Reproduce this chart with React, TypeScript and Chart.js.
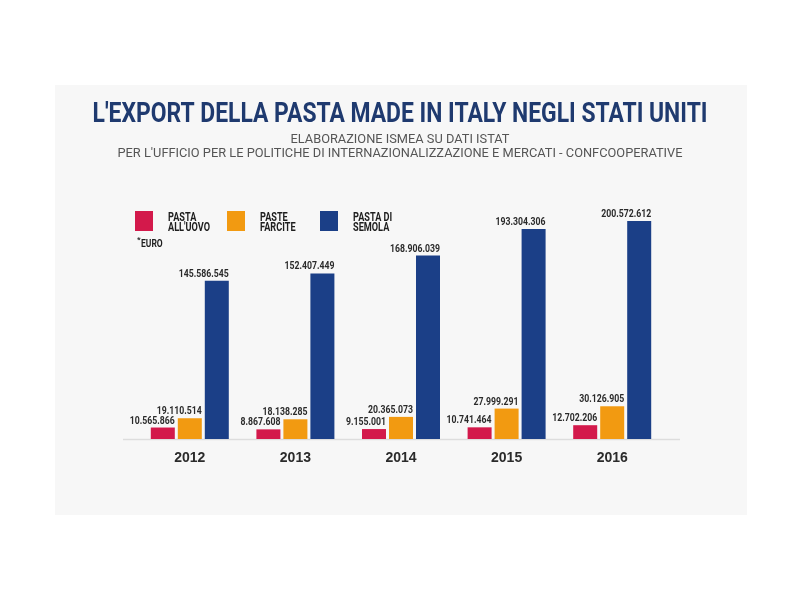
import React, { useEffect, useRef } from "react";
import { Chart, registerables } from "chart.js";

Chart.register(...registerables);

const years = ["2012", "2013", "2014", "2015", "2016"];
const pastaUovo = [10565866, 8867608, 9155001, 10741464, 12702206];
const pasteFarcite = [19110514, 18138285, 20365073, 27999291, 30126905];
const pastaSemola = [145586545, 152407449, 168906039, 193304306, 200572612];
const seriesNames = [["PASTA", "ALL'UOVO"], ["PASTE", "FARCITE"], ["PASTA DI", "SEMOLA"]];
const seriesColors = ["#d3194b", "#f29a11", "#1b3f87"];
const titleText = "L'EXPORT DELLA PASTA MADE IN ITALY NEGLI STATI UNITI";
const subtitleLines = [
  "ELABORAZIONE ISMEA SU DATI ISTAT",
  "PER L'UFFICIO PER LE POLITICHE DI INTERNAZIONALIZZAZIONE E MERCATI - CONFCOOPERATIVE",
];
const unitNote = "EURO";

const FONT = "Roboto, 'Liberation Sans', sans-serif";

function fmt(v: number): string {
  const s = Math.round(v).toString();
  return s.replace(/\B(?=(\d{3})+(?!\d))/g, ".");
}

function cond(ctx: CanvasRenderingContext2D, text: string, x: number, y: number, factor: number) {
  ctx.fillText(text, x, y, ctx.measureText(text).width * factor);
}

const decorPlugin = {
  id: "decor",
  beforeDraw(chart: any) {
    const ctx = chart.ctx;
    ctx.save();
    ctx.fillStyle = "#ffffff";
    ctx.fillRect(0, 0, chart.width, chart.height);
    ctx.fillStyle = "#f7f7f7";
    ctx.fillRect(55, 85, 692, 430);
    ctx.restore();
  },
  beforeDatasetsDraw(chart: any) {
    const ctx = chart.ctx;
    const ca = chart.chartArea;
    ctx.save();
    ctx.strokeStyle = "#dddddd";
    ctx.lineWidth = 1.5;
    ctx.beginPath();
    ctx.moveTo(ca.left - 14, ca.bottom + 0.5);
    ctx.lineTo(ca.right + 15, ca.bottom + 0.5);
    ctx.stroke();
    ctx.restore();
  },
  afterDatasetsDraw(chart: any) {
    const ctx: CanvasRenderingContext2D = chart.ctx;
    ctx.save();
    ctx.textBaseline = "alphabetic";
    // title
    ctx.fillStyle = "#1f3a6f";
    ctx.textAlign = "center";
    ctx.font = `bold 28px ${FONT}`;
    ctx.fillText(titleText, 400, 122, 615);
    ctx.fillStyle = "#555555";
    ctx.font = `13px ${FONT}`;
    const subF = 565 / ctx.measureText(subtitleLines[1]).width;
    cond(ctx, subtitleLines[0], 400, 143, subF);
    cond(ctx, subtitleLines[1], 400, 157, subF);

    // legend
    const legendX = [135, 227, 320];
    ctx.font = `bold 13px ${FONT}`;
    const legF = 42 / ctx.measureText("ALL'UOVO").width;
    chart.data.datasets.forEach((ds: any, i: number) => {
      const x = legendX[i];
      ctx.fillStyle = ds.backgroundColor;
      ctx.fillRect(x, 211, 18, 20);
      ctx.fillStyle = "#1e1e1e";
      ctx.textAlign = "left";
      const lines: string[] = ds.label.split("\n");
      lines.forEach((ln, j) => cond(ctx, ln, x + 33, 220.5 + j * 10, legF));
    });
    ctx.font = `bold 8px ${FONT}`;
    ctx.fillText("*", 137, 242);
    ctx.font = `bold 10px ${FONT}`;
    cond(ctx, unitNote, 141, 247, 0.85);

    // value labels
    ctx.fillStyle = "#2a2a2a";
    ctx.font = `bold 10.5px ${FONT}`;
    const valF = 50 / ctx.measureText("145.586.545").width;
    ctx.textAlign = "right";
    chart.data.datasets.forEach((ds: any, i: number) => {
      const meta = chart.getDatasetMeta(i);
      meta.data.forEach((bar: any, k: number) => {
        const right = bar.x + bar.width / 2;
        cond(ctx, fmt(ds.data[k]), right, bar.y - 4, valF);
      });
    });
    ctx.restore();
  },
};

export default function App() {
  const ref = useRef<HTMLCanvasElement | null>(null);
  useEffect(() => {
    if (!ref.current) return;
    const chart = new Chart(ref.current, {
      type: "bar",
      data: {
        labels: years,
        datasets: [pastaUovo, pasteFarcite, pastaSemola].map((d, i) => ({
          label: seriesNames[i].join("\n"),
          data: d,
          backgroundColor: seriesColors[i],
          borderWidth: 0,
          categoryPercentage: 0.767,
          barPercentage: 0.889,
        })),
      },
      options: {
        animation: false,
        responsive: false,
        layout: { padding: { left: 137, right: 135, top: 200, bottom: 0 } },
        plugins: {
          legend: { display: false },
          title: { display: false },
          tooltip: { enabled: false },
        },
        scales: {
          x: {
            grid: { display: false, drawTicks: false },
            border: { display: false },
            ticks: {
              color: "#2b2b2b",
              font: { family: "'Liberation Sans', Arial, sans-serif", size: 14, weight: "bold" },
              padding: 11,
            },
            afterFit(scale: any) {
              scale.height = 161;
            },
          },
          y: {
            display: false,
            min: 0,
            max: 220000000,
          },
        },
      },
      plugins: [decorPlugin],
    });
    return () => chart.destroy();
  }, []);
  return (
    <div style={{ position: "fixed", left: 0, top: 0, width: 800, height: 600 }}>
      <canvas ref={ref} width={800} height={600} />
    </div>
  );
}
